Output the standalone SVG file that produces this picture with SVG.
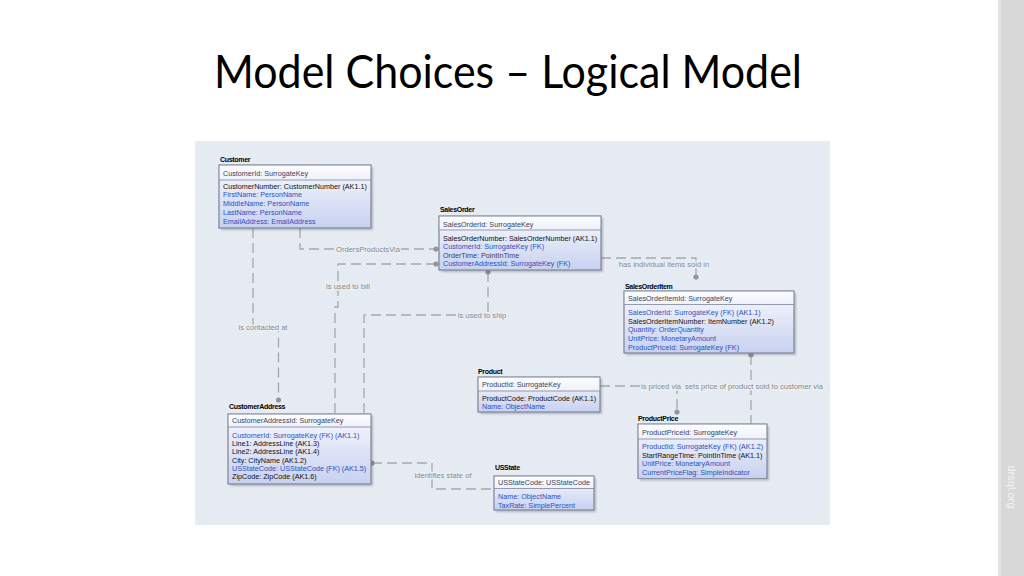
<svg xmlns="http://www.w3.org/2000/svg" width="1024" height="576" viewBox="0 0 1024 576">
<style>
.t{font-family:"Liberation Sans",Arial,sans-serif;font-size:7.2px}
.ttl{font-family:"Liberation Sans",Arial,sans-serif;font-size:7px;font-weight:bold;letter-spacing:-0.3px;fill:#000}
.pk{fill:#3b3f5c}
.k{fill:#111}
.b{fill:#2f4fc0}
.box{stroke:#8a90a2;stroke-width:0.9}
.hdr{fill:url(#hg)}
.body{fill:url(#bg)}
.sh{fill:#000;opacity:0.22;filter:url(#blur)}
.sep{stroke:#8a90a2;stroke-width:0.9}
.ln{fill:none;stroke:#a8a8a8;stroke-width:1.3;stroke-dasharray:10 5}
.dot{fill:#959595}
.lbl{font-family:"Liberation Sans",Arial,sans-serif;font-size:7.6px;fill:#8a8a8a;stroke:#e9eef5;stroke-width:3;paint-order:stroke;stroke-linejoin:round}
</style>
<defs>
<linearGradient id="bg" x1="0" y1="0" x2="0" y2="1">
<stop offset="0" stop-color="#f8f9fe"/>
<stop offset="1" stop-color="#c7d1f0"/>
</linearGradient>
<linearGradient id="hg" x1="0" y1="0" x2="0" y2="1">
<stop offset="0" stop-color="#fdfdff"/>
<stop offset="1" stop-color="#eef1fa"/>
</linearGradient>
<pattern id="hatch" width="4" height="4" patternUnits="userSpaceOnUse">
<rect width="4" height="4" fill="#e9eef5"/>
<path d="M0,4 L4,0 M0,0 L4,4" stroke="#dde5ef" stroke-width="0.6"/>
</pattern>
<filter id="blur" x="-10%" y="-10%" width="120%" height="120%">
<feGaussianBlur stdDeviation="1.2"/>
</filter>
</defs>

<rect width="1024" height="576" fill="#ffffff"/>
<rect x="998" y="0" width="26" height="576" fill="#d8d8d8"/>
<rect x="998" y="0" width="3" height="576" fill="#e3e3e3"/>
<text x="1008" y="487" transform="rotate(90 1008 487)" text-anchor="middle" font-family="'Liberation Sans',Arial,sans-serif" font-size="11" fill="#f3f3f3">drsql.org</text>

<text x="214" y="88" font-family="Lato,'Liberation Sans',Arial,sans-serif" font-size="46" fill="#000" textLength="588" lengthAdjust="spacingAndGlyphs">Model Choices – Logical Model</text>

<rect x="195" y="141" width="635" height="384" fill="url(#hatch)"/>

<g id="connectors">
<path class="ln" d="M300,228 V249 H436"/>
<path class="ln" d="M253,228 V327 H278.5 V400"/>
<path class="ln" d="M436,264 H338 V307 H335 V414"/>
<path class="ln" d="M488,272 V315 H364 V414"/>
<path class="ln" d="M601,258 H696 V277"/>
<path class="ln" d="M600,386 H677 V412"/>
<path class="ln" d="M751,355 V424"/>
<path class="ln" d="M372,463 H432 V489 H494"/>
<circle class="dot" cx="436" cy="249" r="2.6"/>
<circle class="dot" cx="436" cy="264" r="2.6"/>
<circle class="dot" cx="488" cy="272" r="2.6"/>
<circle class="dot" cx="278.5" cy="400" r="2.6"/>
<circle class="dot" cx="696" cy="277" r="2.6"/>
<circle class="dot" cx="677" cy="412" r="2.6"/>
<circle class="dot" cx="751" cy="355" r="2.6"/>
<circle class="dot" cx="372" cy="463" r="2.6"/>
<text class="lbl" x="368" y="251.5" text-anchor="middle">OrdersProductsVia</text>
<text class="lbl" x="263" y="329.5" text-anchor="middle">is contacted at</text>
<text class="lbl" x="348" y="288.5" text-anchor="middle">is used to bill</text>
<text class="lbl" x="482" y="317.5" text-anchor="middle">is used to ship</text>
<text class="lbl" x="664" y="266.5" text-anchor="middle">has individual items sold in</text>
<text class="lbl" x="641" y="389">is priced via</text>
<text class="lbl" x="685" y="389">sets price of product sold to customer via</text>
<text class="lbl" x="443" y="477.5" text-anchor="middle">identifies state of</text>
</g>

<g id="customer">
<text class="ttl" x="220" y="161.5">Customer</text>
<rect class="sh" x="221" y="167" width="152" height="63"/>
<rect class="box body" x="219" y="165" width="152" height="63"/>
<rect class="hdr" x="219.5" y="165.5" width="151" height="14.5"/>
<line class="sep" x1="219" y1="180" x2="371" y2="180"/>
<rect class="box" x="219" y="165" width="152" height="63" fill="none"/>
<text class="t pk" x="223" y="175.5">CustomerId: SurrogateKey</text>
<text class="t k" x="223" y="188.5">CustomerNumber: CustomerNumber (AK1.1)</text>
<text class="t b" x="223" y="197.3">FirstName: PersonName</text>
<text class="t b" x="223" y="206.1">MiddleName: PersonName</text>
<text class="t b" x="223" y="214.9">LastName: PersonName</text>
<text class="t b" x="223" y="223.7">EmailAddress: EmailAddress</text>
</g>

<g id="salesorder">
<text class="ttl" x="440" y="211.5">SalesOrder</text>
<rect class="sh" x="441" y="218" width="162" height="54"/>
<rect class="box body" x="439" y="216" width="162" height="54"/>
<rect class="hdr" x="439.5" y="216.5" width="161" height="13.5"/>
<line class="sep" x1="439" y1="230" x2="601" y2="230"/>
<rect class="box" x="439" y="216" width="162" height="54" fill="none"/>
<text class="t pk" x="443" y="226.5">SalesOrderId: SurrogateKey</text>
<text class="t k" x="443" y="240.5">SalesOrderNumber: SalesOrderNumber (AK1.1)</text>
<text class="t b" x="443" y="249">CustomerId: SurrogateKey (FK)</text>
<text class="t pk" x="443" y="257.5">OrderTime: PointInTime</text>
<text class="t b" x="443" y="266">CustomerAddressId: SurrogateKey (FK)</text>
</g>

<g id="salesorderitem">
<text class="ttl" x="625" y="288.5">SalesOrderItem</text>
<rect class="sh" x="626" y="293" width="170" height="62"/>
<rect class="box body" x="624" y="291" width="170" height="62"/>
<rect class="hdr" x="624.5" y="291.5" width="169" height="13"/>
<line class="sep" x1="624" y1="304.5" x2="794" y2="304.5"/>
<rect class="box" x="624" y="291" width="170" height="62" fill="none"/>
<text class="t pk" x="628" y="300.5">SalesOrderItemId: SurrogateKey</text>
<text class="t b" x="628" y="315">SalesOrderId: SurrogateKey (FK) (AK1.1)</text>
<text class="t k" x="628" y="323.7">SalesOrderItemNumber: ItemNumber (AK1.2)</text>
<text class="t b" x="628" y="332.4">Quantity: OrderQuantity</text>
<text class="t b" x="628" y="341.1">UnitPrice: MonetaryAmount</text>
<text class="t b" x="628" y="349.8">ProductPriceId: SurrogateKey (FK)</text>
</g>

<g id="product">
<text class="ttl" x="478" y="373.5">Product</text>
<rect class="sh" x="480" y="379" width="122" height="35"/>
<rect class="box body" x="478" y="377" width="122" height="35"/>
<rect class="hdr" x="478.5" y="377.5" width="121" height="13.5"/>
<line class="sep" x1="478" y1="391" x2="600" y2="391"/>
<rect class="box" x="478" y="377" width="122" height="35" fill="none"/>
<text class="t pk" x="482" y="387">ProductId: SurrogateKey</text>
<text class="t k" x="482" y="400.5">ProductCode: ProductCode (AK1.1)</text>
<text class="t b" x="482" y="409">Name: ObjectName</text>
</g>

<g id="productprice">
<text class="ttl" x="638" y="420.5">ProductPrice</text>
<rect class="sh" x="640" y="426" width="129" height="54.5"/>
<rect class="box body" x="638" y="424" width="129" height="54.5"/>
<rect class="hdr" x="638.5" y="424.5" width="128" height="14.5"/>
<line class="sep" x1="638" y1="439" x2="767" y2="439"/>
<rect class="box" x="638" y="424" width="129" height="54.5" fill="none"/>
<text class="t pk" x="642" y="434.5">ProductPriceId: SurrogateKey</text>
<text class="t b" x="642" y="449">ProductId: SurrogateKey (FK) (AK1.2)</text>
<text class="t k" x="642" y="457.5">StartRangeTime: PointInTime (AK1.1)</text>
<text class="t b" x="642" y="466">UnitPrice: MonetaryAmount</text>
<text class="t b" x="642" y="474.5">CurrentPriceFlag: SimpleIndicator</text>
</g>

<g id="customeraddress">
<text class="ttl" x="229" y="408.5">CustomerAddress</text>
<rect class="sh" x="230" y="416" width="143" height="70"/>
<rect class="box body" x="228" y="414" width="143" height="70"/>
<rect class="hdr" x="228.5" y="414.5" width="142" height="12.5"/>
<line class="sep" x1="228" y1="427" x2="371" y2="427"/>
<rect class="box" x="228" y="414" width="143" height="70" fill="none"/>
<text class="t pk" x="232" y="423">CustomerAddressId: SurrogateKey</text>
<text class="t b" x="232" y="437.5">CustomerId: SurrogateKey (FK) (AK1.1)</text>
<text class="t k" x="232" y="446">Line1: AddressLine (AK1.3)</text>
<text class="t k" x="232" y="454.3">Line2: AddressLine (AK1.4)</text>
<text class="t k" x="232" y="462.6">City: CityName (AK1.2)</text>
<text class="t b" x="232" y="470.9">USStateCode: USStateCode (FK) (AK1.5)</text>
<text class="t k" x="232" y="479.2">ZipCode: ZipCode (AK1.6)</text>
</g>

<g id="usstate">
<text class="ttl" x="495" y="470">USState</text>
<rect class="sh" x="496" y="478" width="100" height="34"/>
<rect class="box body" x="494" y="476" width="100" height="34"/>
<rect class="hdr" x="494.5" y="476.5" width="99" height="12"/>
<line class="sep" x1="494" y1="488.5" x2="594" y2="488.5"/>
<rect class="box" x="494" y="476" width="100" height="34" fill="none"/>
<text class="t pk" x="498" y="485">USStateCode: USStateCode</text>
<text class="t b" x="498" y="499">Name: ObjectName</text>
<text class="t b" x="498" y="507.5">TaxRate: SimplePercent</text>
</g>
</svg>
